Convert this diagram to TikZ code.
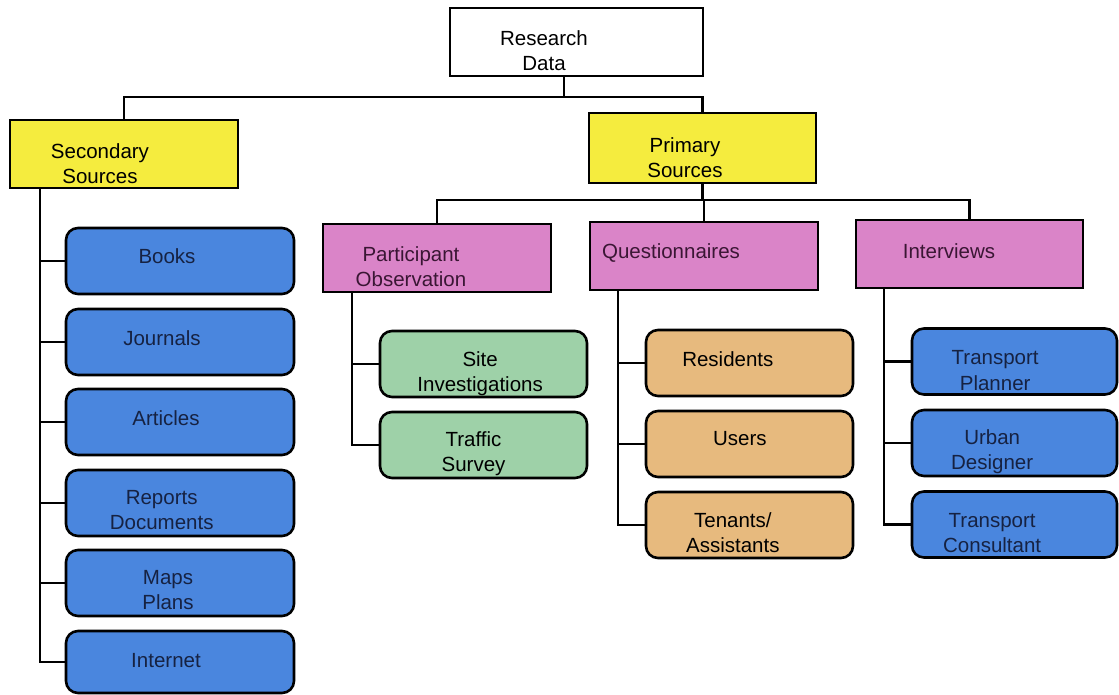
\documentclass[tikz,border=0pt]{standalone}
\usepackage{fontspec}
\setmainfont{Liberation Sans}
\usetikzlibrary{calc}
\definecolor{cyel}{RGB}{245,236,62}
\definecolor{cpink}{RGB}{218,132,200}
\definecolor{cblue}{RGB}{74,134,222}
\definecolor{cgreen}{RGB}{158,209,168}
\definecolor{ctan}{RGB}{231,186,126}
\definecolor{tnavy}{RGB}{22,34,66}
\definecolor{tpurp}{RGB}{58,22,52}
\tikzset{
  box/.style={draw=black, line width=2.2pt, minimum height=2.04cm, inner sep=0pt},
  hdr/.style={box, fill=white, minimum width=7.59cm},
  ybox/.style={box, fill=cyel, minimum width=6.84cm},
  pbox/.style={box, fill=cpink, minimum width=6.84cm},
  rbox/.style={box, rounded corners=0.36cm, minimum height=1.98cm},
  bbox/.style={rbox, fill=cblue, minimum width=6.84cm},
  gbox/.style={rbox, fill=cgreen, minimum width=6.21cm},
  tbox/.style={rbox, fill=ctan, minimum width=6.21cm},
  b2box/.style={rbox, fill=cblue, minimum width=6.15cm},
  lbl/.style={font=\fontsize{17.5}{21.5}\selectfont, align=center, inner sep=0pt},
  lnav/.style={lbl, text=tnavy},
  lpur/.style={lbl, text=tpurp},
  conn/.style={draw=black, line width=1.9pt}
}
\begin{document}
\begin{tikzpicture}[x=0.03cm,y=-0.03cm]
\useasboundingbox[fill=white] (0,0) rectangle (1119,694);

% top
\node[hdr, label={[lbl,xshift=-0.975cm,yshift=-0.255cm]center:{Research\\Data}}] (rd) at (576.5,42) {};
\node[ybox, label={[lbl,xshift=-0.72cm,yshift=-0.3cm]center:{Secondary\\Sources}}] (sec) at (124,154) {};
\node[ybox, minimum width=6.81cm, minimum height=2.1cm, label={[lbl,xshift=-0.525cm,yshift=-0.3cm]center:{Primary\\Sources}}] (pri) at (702.5,148) {};

% primary level
\node[pbox, label={[lpur,xshift=-0.78cm,yshift=-0.27cm]center:{Participant\\Observation}}] (po) at (437,258) {};
\node[pbox, label={[lpur,xshift=-0.99cm,yshift=0.09cm]center:{Questionnaires}}] (qu) at (704,256) {};
\node[pbox, minimum width=6.81cm, label={[lpur,xshift=-0.615cm,yshift=0.09cm]center:{Interviews}}] (iv) at (969.5,254) {};

% secondary children
\node[bbox, label={[lnav,xshift=-0.39cm,yshift=0.15cm]center:{Books}}] (s1) at (180,261) {};
\node[bbox, label={[lnav,xshift=-0.54cm,yshift=0.12cm]center:{Journals}}] (s2) at (180,342) {};
\node[bbox, label={[lnav,xshift=-0.42cm,yshift=0.12cm]center:{Articles}}] (s3) at (180,422) {};
\node[bbox, label={[lnav,xshift=-0.55cm,yshift=-0.2cm]center:{Reports\\Documents}}] (s4) at (180,503) {};
\node[bbox, label={[lnav,xshift=-0.36cm,yshift=-0.22cm]center:{Maps\\Plans}}] (s5) at (180,583) {};
\node[bbox, minimum height=1.86cm, label={[lnav,xshift=-0.42cm,yshift=0.03cm]center:{Internet}}] (s6) at (180,662) {};

% participant children
\node[gbox, label={[lbl,xshift=-0.1cm,yshift=-0.28cm]center:{Site\\Investigations}}] (p1) at (483.5,364) {};
\node[gbox, label={[lbl,xshift=-0.3cm,yshift=-0.26cm]center:{Traffic\\Survey}}] (p2) at (483.5,445) {};

% questionnaire children
\node[tbox, label={[lbl,xshift=-0.65cm,yshift=0.12cm]center:{Residents}}] (q1) at (749.5,363) {};
\node[tbox, label={[lbl,xshift=-0.29cm,yshift=0.15cm]center:{Users}}] (q2) at (749.5,444) {};
\node[tbox, label={[lbl,xshift=-0.5cm,yshift=-0.22cm]center:{Tenants/\\Assistants}}] (q3) at (749.5,525) {};

% interview children
\node[b2box, label={[lnav,xshift=-0.58cm,yshift=-0.27cm]center:{Transport\\Planner}}] (i1) at (1014.5,361.5) {};
\node[b2box, label={[lnav,xshift=-0.67cm,yshift=-0.25cm]center:{Urban\\Designer}}] (i2) at (1014.5,443) {};
\node[b2box, label={[lnav,xshift=-0.67cm,yshift=-0.25cm]center:{Transport\\Consultant}}] (i3) at (1014.5,524.5) {};

% connectors
\coordinate (busA) at (0,97);
\coordinate (busB) at (0,200);
\coordinate (spS) at (40,0);
\coordinate (spP) at (352,0);
\coordinate (spQ) at (618,0);
\coordinate (spI) at (884,0);

\draw[conn] ([xshift=-0.375cm]rd.south) -- ([xshift=-0.375cm]rd.south |- busA);
\draw[conn] (sec.north) -- (sec.north |- busA) -- (pri.north |- busA) -- (pri.north);
\draw[conn] (pri.south) -- (pri.south |- busB);
\draw[conn] (po.north) -- (po.north |- busB) -- (iv.north |- busB) -- (iv.north);
\draw[conn] (qu.north) -- (qu.north |- busB);

\draw[conn] (spS |- sec.south) -- (spS |- s6.west) -- (s6.west);
\foreach \n in {s1,s2,s3,s4,s5} \draw[conn] (spS |- \n.west) -- (\n.west);

\draw[conn] (spP |- po.south) -- (spP |- p2.west) -- (p2.west);
\draw[conn] (spP |- p1.west) -- (p1.west);

\draw[conn] (spQ |- qu.south) -- (spQ |- q3.west) -- (q3.west);
\foreach \n in {q1,q2} \draw[conn] (spQ |- \n.west) -- (\n.west);

\draw[conn] (spI |- iv.south) -- (spI |- i3.west) -- (i3.west);
\foreach \n in {i1,i2} \draw[conn] (spI |- \n.west) -- (\n.west);
\end{tikzpicture}
\end{document}
